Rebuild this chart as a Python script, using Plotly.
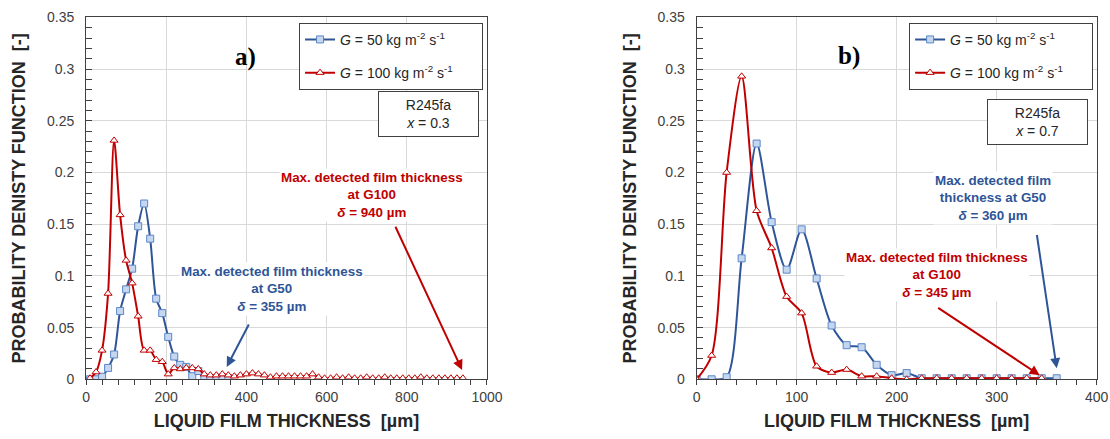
import plotly.graph_objects as go

# ---------------- data ----------------
# Panel a) x = 0.3
a_x_g50 = [10, 25, 40, 55, 70, 85, 100, 115, 130, 145, 160, 175, 190, 205, 220, 235,
           250, 265, 280, 295, 310, 325, 340, 355]
a_y_g50 = [0.000, 0.000, 0.0025, 0.011, 0.024, 0.066, 0.087, 0.107, 0.148, 0.170, 0.136,
           0.078, 0.064, 0.041, 0.022, 0.014, 0.012, 0.003, 0.008, 0.001, 0.000, 0.000,
           0.001, 0.001]

a_x_g100 = [10, 25, 40, 55, 70, 85, 100, 115, 130, 145, 160, 175, 190, 205, 220, 235,
            250, 265, 280, 295, 310, 325, 340, 355, 370, 385, 400, 415, 430, 445, 460,
            475, 490, 505, 520, 535, 550, 565, 580, 595, 610, 625, 640, 655, 670, 685,
            700, 715, 730, 745, 760, 775, 790, 805, 820, 835, 850, 865, 880, 895, 910,
            925, 940]
a_y_g100 = [0.001, 0.007, 0.028, 0.083, 0.231, 0.159, 0.115, 0.093, 0.061, 0.028, 0.028,
            0.019, 0.017, 0.005, 0.011, 0.010, 0.011, 0.011, 0.010, 0.005, 0.004, 0.004,
            0.005, 0.004, 0.003, 0.004, 0.005, 0.006, 0.005, 0.004, 0.002, 0.003, 0.003,
            0.003, 0.003, 0.003, 0.003, 0.005, 0.002, 0.001, 0.001, 0.002, 0.001, 0.002,
            0.001, 0.001, 0.002, 0.001, 0.001, 0.002, 0.001, 0.001, 0.001, 0.001, 0.001,
            0.002, 0.001, 0.001, 0.001, 0.001, 0.001, 0.001, 0.001]

# Panel b) x = 0.7
b_x_g50 = [0, 15, 30, 45, 60, 75, 90, 105, 120, 135, 150, 165, 180, 195, 210, 225, 240,
           255, 270, 285, 300, 315, 330, 345, 360]
b_y_g50 = [0.000, 0.000, 0.002, 0.117, 0.228, 0.152, 0.106, 0.145, 0.0975, 0.052, 0.033,
           0.031, 0.014, 0.004, 0.006, 0.001, 0.001, 0.001, 0.001, 0.001, 0.001, 0.001,
           0.001, 0.001, 0.001]

b_x_g100 = [0, 15, 30, 45, 60, 75, 90, 105, 120, 135, 150, 165, 180, 195, 210, 225, 240,
            255, 270, 285, 300, 315, 330, 345]
b_y_g100 = [0.000, 0.023, 0.200, 0.293, 0.163, 0.127, 0.080, 0.064, 0.0126, 0.0065, 0.0094,
            0.003, 0.003, 0.001, 0.000, 0.001, 0.001, 0.001, 0.001, 0.001, 0.001, 0.001,
            0.001, 0.001]

y_tick_vals = [0, 0.05, 0.1, 0.15, 0.2, 0.25, 0.3, 0.35]
y_tick_text = ["0", "0.05", "0.1", "0.15", "0.2", "0.25", "0.3", "0.35"]
a_x_tick_vals = [0, 200, 400, 600, 800, 1000]
b_x_tick_vals = [0, 100, 200, 300, 400]

PAD = "&nbsp;" * 6
name_g50 = "<i>G</i> = 50 kg m<sup>-2</sup> s<sup>-1</sup>" + PAD
name_g100 = "<i>G</i> = 100 kg m<sup>-2</sup> s<sup>-1</sup>" + PAD

# ---------------- style ----------------
FONT = "Arial, Liberation Sans, sans-serif"
BLUE = "#2F5597"
BLUE_FILL = "#C5D6EF"
BLUE_EDGE = "#5B87C9"
RED = "#C00000"
GRID = "#D9D9D9"
FRAME = "#404040"
TXT = "#262626"

fig = go.Figure()

def add_series(x, y, name, xa, ya, legend, kind):
    if kind == "g50":
        line = dict(color=BLUE, width=2, shape="spline", smoothing=0.8)
        marker = dict(symbol="square", size=7, color=BLUE_FILL, line=dict(color=BLUE_EDGE, width=1))
    else:
        line = dict(color=RED, width=2, shape="spline", smoothing=0.8)
        marker = dict(symbol="triangle-up", size=7, color="white", line=dict(color=RED, width=1))
    fig.add_trace(go.Scatter(x=x, y=y, name=name, mode="lines+markers", line=line,
                             marker=marker, xaxis=xa, yaxis=ya, legend=legend,
                             legendgroup=legend + kind))

add_series(a_x_g50, a_y_g50, name_g50, "x", "y", "legend", "g50")
add_series(a_x_g100, a_y_g100, name_g100, "x", "y", "legend", "g100")
add_series(b_x_g50, b_y_g50, name_g50, "x2", "y2", "legend2", "g50")
add_series(b_x_g100, b_y_g100, name_g100, "x2", "y2", "legend2", "g100")

tickfont = dict(family=FONT, size=14, color="#404040")
titlefont = dict(family=FONT, size=18, color=TXT, weight="bold")

def xaxis(domain, rng, minor_dtick, tickvals, anchor):
    return dict(domain=domain, range=rng, anchor=anchor, tickvals=tickvals,
                ticktext=[str(v) for v in tickvals],
                showgrid=True, gridcolor=GRID, gridwidth=1, zeroline=False,
                showline=True, linecolor=FRAME, linewidth=1, mirror=True,
                ticks="outside", ticklen=5, tickcolor=FRAME,
                minor=dict(dtick=minor_dtick, ticks="outside", ticklen=5, tickcolor=FRAME, showgrid=False),
                tickfont=tickfont, automargin=False,
                title=dict(text="LIQUID FILM THICKNESS&nbsp;&nbsp;[µm]", font=titlefont, standoff=10))

def yaxis(anchor):
    return dict(domain=[0.136, 0.9604], range=[0, 0.35], anchor=anchor,
                tickvals=y_tick_vals, ticktext=y_tick_text,
                showgrid=True, gridcolor=GRID, gridwidth=1, zeroline=False,
                showline=True, linecolor=FRAME, linewidth=1, mirror=True,
                ticks="inside", ticklen=6, tickcolor=FRAME,
                minor=dict(dtick=0.01, ticks="inside", ticklen=6, tickcolor=FRAME, showgrid=False),
                tickfont=tickfont, automargin=False, ticklabelstandoff=8,
                title=dict(text="PROBABILITY DENISTY FUNCTION&nbsp;&nbsp;[-]", font=titlefont, standoff=16))

legend_common = dict(xanchor="left", yanchor="top", bordercolor=FRAME, borderwidth=1,
                     bgcolor="white", font=dict(family=FONT, size=14, color=TXT),
                     tracegroupgap=12, itemwidth=30)

fig.update_layout(
    width=1110, height=439,
    margin=dict(l=0, r=0, t=0, b=0),
    paper_bgcolor="white", plot_bgcolor="white",
    xaxis=xaxis([0.0775, 0.4387], [0, 1000], 40, a_x_tick_vals, "y"),
    yaxis=yaxis("x"),
    xaxis2=xaxis([0.6276, 0.9880], [0, 400], 20, b_x_tick_vals, "y2"),
    yaxis2=yaxis("x2"),
    legend=dict(x=0.2694, y=0.948, **legend_common),
    legend2=dict(x=0.819, y=0.948, **legend_common),
    showlegend=True,
)

# panel labels
for txt, xp, yp in [("a)", 0.2213, 0.870), ("b)", 0.7653, 0.872)]:
    fig.add_annotation(text="<b>" + txt + "</b>", x=xp, y=yp, xref="paper", yref="paper",
                       xanchor="center", yanchor="middle", showarrow=False,
                       font=dict(family="Liberation Serif, Times New Roman, serif", size=25, color="black"))

# fluid boxes
for txt, xp, yp in [("R245fa<br><i>x</i> = 0.3", 0.386, 0.7408), ("R245fa<br><i>x</i> = 0.7", 0.9347, 0.722)]:
    fig.add_annotation(text=txt, x=xp, y=yp, xref="paper", yref="paper", showarrow=False,
                       xanchor="center", yanchor="middle",
                       width=95, height=40, borderpad=2, borderwidth=1, bordercolor=FRAME,
                       bgcolor="white", font=dict(family=FONT, size=14, color=TXT))

# max detected annotations: text
texts = [
    ("Max. detected film thickness<br>at G100<br><i>δ</i> = 940 µm", 714, 0.178, "x", "y", RED),
    ("Max. detected film thickness<br>at G50<br><i>δ</i> = 355 µm", 465, 0.0875, "x", "y", BLUE),
    ("Max. detected film<br>thickness at G50<br><i>δ</i> = 360 µm", 296, 0.175, "x2", "y2", BLUE),
    ("Max. detected film thickness<br>at G100<br><i>δ</i> = 345 µm", 240, 0.101, "x2", "y2", RED),
]
for txt, xv, yv, xr, yr, col in texts:
    fig.add_annotation(text="<b>" + txt + "</b>", x=xv, y=yv, xref=xr, yref=yr, showarrow=False,
                       xanchor="center", yanchor="middle",
                       bgcolor="white", font=dict(family=FONT, size=13.4, color=col))

# arrows: (tail x, tail y, head x, head y)
arrows = [
    (770, 0.149, 938, 0.009, "x", "y", RED),
    (408, 0.0545, 351, 0.012, "x", "y", BLUE),
    (340, 0.141, 360, 0.0107, "x2", "y2", BLUE),
    (240, 0.070, 343, 0.004, "x2", "y2", RED),
]
for tx, ty, hx, hy, xr, yr, col in arrows:
    fig.add_annotation(text="", x=hx, y=hy, ax=tx, ay=ty, xref=xr, yref=yr, axref=xr, ayref=yr,
                       showarrow=True, arrowhead=2, arrowsize=1, arrowwidth=2, arrowcolor=col,
                       standoff=0)

fig.write_html("out.html", config={"displayModeBar": False},
               post_script="document.body.style.margin='0px';")
